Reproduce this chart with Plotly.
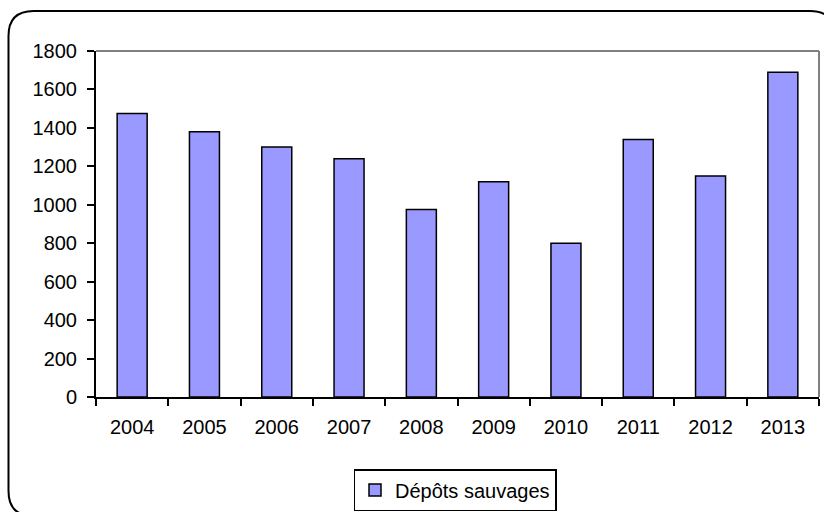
import plotly.graph_objects as go

years = ["2004", "2005", "2006", "2007", "2008", "2009", "2010", "2011", "2012", "2013"]
depots = [1475, 1380, 1300, 1240, 975, 1120, 800, 1340, 1150, 1690]
series_name = "Dépôts sauvages"
y_ticks = [0, 200, 400, 600, 800, 1000, 1200, 1400, 1600, 1800]

W, H = 824, 512
L, R, T, B = 96, 819, 51, 397  # plot area pixels


def px(x):
    return (x - L) / (R - L)


def py(y):
    return (B - y) / (B - T)


fig = go.Figure()
fig.add_trace(go.Bar(
    x=years, y=depots, name=series_name,
    marker=dict(color="#9999FF", line=dict(color="black", width=1.5)),
    showlegend=True,
))

# outer rounded frame: left part with rounded corners, top-right corner curve only
x0, y0, y1, r = 8.5, 11, 516, 25
xr = 810  # where the top-right corner starts curving
path = (f"M {px(xr)},{py(y0)} L {px(x0+r)},{py(y0)} "
        f"Q {px(x0)},{py(y0)} {px(x0)},{py(y0+r)} "
        f"L {px(x0)},{py(y1-r)} Q {px(x0)},{py(y1)} {px(x0+r)},{py(y1)} "
        f"L {px(900)},{py(y1)}")
corner = f"M {px(xr)},{py(y0)} Q {px(xr+r)},{py(y0)} {px(xr+r)},{py(y0+r)}"

shapes = [
    dict(type="path", xref="paper", yref="paper", path=path,
         line=dict(color="black", width=2)),
    dict(type="path", xref="paper", yref="paper", path=corner,
         line=dict(color="black", width=2)),
    dict(type="line", xref="paper", yref="paper", x0=0, x1=1, y0=1, y1=1,
         line=dict(color="#808080", width=2)),
    dict(type="line", xref="paper", yref="paper", x0=1, x1=1, y0=0, y1=1,
         line=dict(color="#808080", width=2)),
]

fig.update_layout(
    width=W, height=H,
    margin=dict(l=L, r=W - R, t=T, b=H - B, pad=0),
    paper_bgcolor="white", plot_bgcolor="white",
    font=dict(family="Liberation Sans, Arial, sans-serif", size=20, color="black"),
    bargap=0.585,
    shapes=shapes,
    xaxis=dict(
        showline=True, linecolor="black", linewidth=2, automargin=False,
        ticks="outside", tickson="boundaries", ticklen=7, tickwidth=2, tickcolor="black",
        showgrid=False, ticklabelstandoff=11,
    ),
    yaxis=dict(
        range=[0, 1800], tickvals=y_ticks, automargin=False,
        showline=True, linecolor="black", linewidth=2,
        ticks="outside", ticklen=7, tickwidth=2, tickcolor="black",
        showgrid=False, zeroline=False, ticklabelstandoff=6,
    ),
    legend=dict(
        orientation="h", xref="container", yref="container",
        x=455 / W, xanchor="center", y=1 - 490 / H, yanchor="middle",
        bordercolor="black", borderwidth=1.5, bgcolor="white",
        font=dict(size=20),
    ),
)

fig.write_html("out.html")
